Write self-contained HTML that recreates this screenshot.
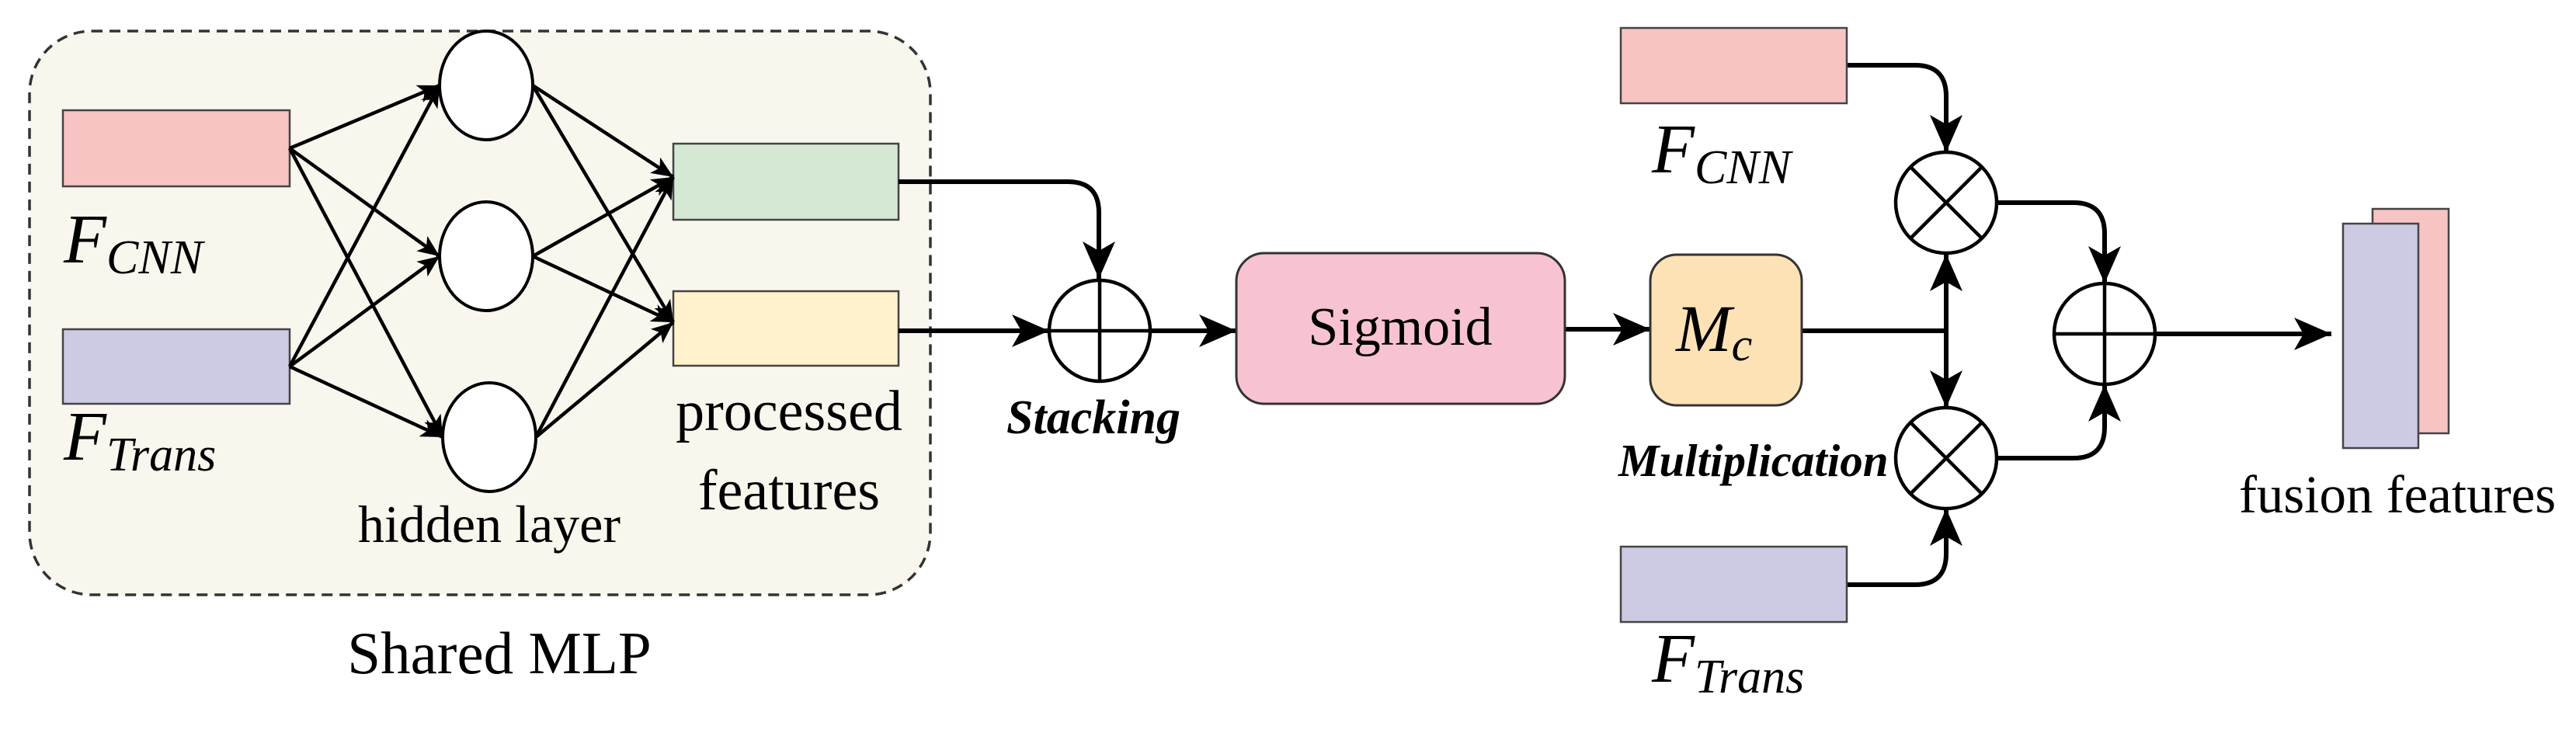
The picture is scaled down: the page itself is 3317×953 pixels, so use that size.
<!DOCTYPE html>
<html><head><meta charset="utf-8"><style>html,body{margin:0;padding:0;background:#fff}svg{display:block}</style></head>
<body>
<svg width="3317" height="953" viewBox="0 0 3317 953" xmlns="http://www.w3.org/2000/svg" font-family="'Liberation Serif', serif">
<defs>
<marker id="big" markerUnits="userSpaceOnUse" markerWidth="50" markerHeight="46" refX="48" refY="23" orient="auto">
<path d="M0,2 L48,23 L0,44 L12,23 Z" fill="#000"/></marker>
<marker id="sm" markerUnits="userSpaceOnUse" markerWidth="30" markerHeight="26" refX="28" refY="13" orient="auto">
<path d="M0,1 L28,13 L0,25 L7,13 Z" fill="#000"/></marker>
</defs>
<rect x="0" y="0" width="3317" height="953" fill="#fff"/>
<rect x="38" y="40" width="1160" height="726" rx="80" fill="#f9f6ee" stroke="#333" stroke-width="3.5" stroke-dasharray="14 9"/>
<rect x="81" y="142" width="292" height="98" fill="#f7c4c3" stroke="#444" stroke-width="2.5"/>
<rect x="81" y="424" width="292" height="96" fill="#cdcbe3" stroke="#444" stroke-width="2.5"/>
<rect x="867" y="185" width="290" height="98" fill="#d5e8d4" stroke="#444" stroke-width="2.5"/>
<rect x="867" y="375" width="290" height="96" fill="#fff2cc" stroke="#444" stroke-width="2.5"/>
<g stroke="#000" stroke-width="4.5" fill="none" marker-end="url(#sm)">
<line x1="373" y1="191" x2="566" y2="110"/>
<line x1="373" y1="191" x2="566" y2="330"/>
<line x1="373" y1="191" x2="570" y2="563"/>
<line x1="373" y1="472" x2="566" y2="110"/>
<line x1="373" y1="472" x2="566" y2="330"/>
<line x1="373" y1="472" x2="570" y2="563"/>
<line x1="686" y1="110" x2="867" y2="228"/>
<line x1="686" y1="110" x2="867" y2="415"/>
<line x1="686" y1="330" x2="867" y2="228"/>
<line x1="686" y1="330" x2="867" y2="415"/>
<line x1="690" y1="563" x2="867" y2="228"/>
<line x1="690" y1="563" x2="867" y2="415"/>
</g>
<g fill="#fff" stroke="#000" stroke-width="4">
<ellipse cx="626" cy="110" rx="60" ry="70"/>
<ellipse cx="626" cy="330" rx="60" ry="70"/>
<ellipse cx="630" cy="563" rx="60" ry="70"/>
</g>
<text x="82" y="338" font-size="90" font-style="italic">F<tspan font-size="62" dy="14">CNN</tspan></text>
<text x="82" y="592" font-size="90" font-style="italic">F<tspan font-size="62" dy="14">Trans</tspan></text>
<text x="630" y="698" font-size="68" text-anchor="middle">hidden layer</text>
<text x="1016" y="554" font-size="74" text-anchor="middle">processed</text>
<text x="1016" y="656" font-size="74" text-anchor="middle">features</text>
<text x="643" y="867" font-size="77" text-anchor="middle">Shared MLP</text>
<g stroke="#000" stroke-width="6" fill="none" marker-end="url(#big)">
<path d="M1157,234 H1375 Q1415,234 1415,274 V359"/>
<path d="M1157,426 H1351"/>
<path d="M1481,426 H1592"/>
<path d="M2015,424 H2125"/>
<path d="M2506,426 V327"/>
<path d="M2506,426 V525"/>
<path d="M2378,84 H2466 Q2506,84 2506,124 V196"/>
<path d="M2378,753 H2466 Q2506,753 2506,713 V655"/>
<path d="M2571,261 H2670 Q2710,261 2710,301 V365"/>
<path d="M2571,590 H2670 Q2710,590 2710,550 V495"/>
<path d="M2775,430 H3002"/>
</g>
<path d="M2320,426 H2506" stroke="#000" stroke-width="6" fill="none"/>
<g fill="#fff" stroke="#000" stroke-width="4.5">
<circle cx="1416" cy="426" r="65"/>
<circle cx="2506" cy="261" r="65"/>
<circle cx="2506" cy="590" r="65"/>
<circle cx="2710" cy="430" r="65"/>
</g>
<g stroke="#000" stroke-width="4.5">
<line x1="1351" y1="426" x2="1481" y2="426"/><line x1="1416" y1="361" x2="1416" y2="491"/>
<line x1="2710" y1="365" x2="2710" y2="495"/><line x1="2645" y1="430" x2="2775" y2="430"/>
<line x1="2460" y1="215" x2="2552" y2="307"/><line x1="2552" y1="215" x2="2460" y2="307"/>
<line x1="2460" y1="544" x2="2552" y2="636"/><line x1="2552" y1="544" x2="2460" y2="636"/>
</g>
<text x="1408" y="558" font-size="62" font-style="italic" font-weight="bold" text-anchor="middle">Stacking</text>
<rect x="1592" y="326" width="423" height="194" rx="36" fill="#f8c3d1" stroke="#333" stroke-width="3"/>
<text x="1803" y="444" font-size="70" text-anchor="middle">Sigmoid</text>
<rect x="2125" y="328" width="195" height="194" rx="34" fill="#fde2b5" stroke="#333" stroke-width="3"/>
<text x="2158" y="452" font-size="86" font-style="italic">M<tspan font-size="60" dy="12">c</tspan></text>
<rect x="2087" y="36" width="291" height="97" fill="#f7c4c3" stroke="#444" stroke-width="2.5"/>
<text x="2127" y="222" font-size="90" font-style="italic">F<tspan font-size="62" dy="14">CNN</tspan></text>
<text x="2084" y="613" font-size="59" font-style="italic" font-weight="bold">Multiplication</text>
<rect x="2087" y="704" width="291" height="97" fill="#cdcbe3" stroke="#444" stroke-width="2.5"/>
<text x="2127" y="878" font-size="90" font-style="italic">F<tspan font-size="62" dy="14">Trans</tspan></text>
<rect x="3055" y="269" width="98" height="289" fill="#f7c4c3" stroke="#444" stroke-width="2.5"/>
<rect x="3017" y="288" width="97" height="289" fill="#cdcbe3" stroke="#444" stroke-width="2.5"/>
<text x="3087" y="660" font-size="69" text-anchor="middle">fusion features</text>
</svg>
</body></html>
